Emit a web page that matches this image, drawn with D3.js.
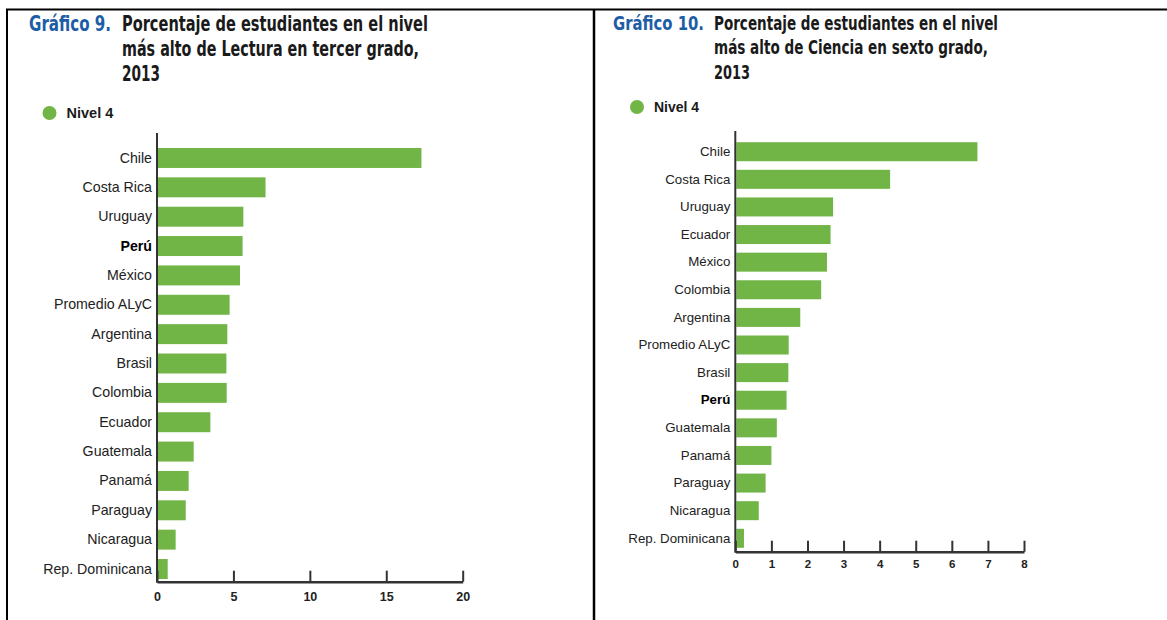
<!DOCTYPE html>
<html>
<head>
<meta charset="utf-8">
<script src="https://cdn.jsdelivr.net/npm/d3@7"></script>
<style>
  body { margin: 0; background: #fff; }
  svg { display: block; }
  .cat text { font-family: "Liberation Sans", Arial, sans-serif; fill: #222; }
  .xax text { font-family: "Liberation Sans", Arial, sans-serif; font-weight: bold; fill: #222; }
  .ttl { font-family: "Liberation Sans Narrow", "DejaVu Sans Condensed", "Liberation Sans", sans-serif; font-weight: bold; font-stretch: condensed; }
</style>
</head>
<body>
<svg width="1167" height="620"></svg>
<script>
// data
var lecturaPaises = ["Chile", "Costa Rica", "Uruguay", "Perú", "México", "Promedio ALyC", "Argentina", "Brasil",
	"Colombia", "Ecuador", "Guatemala", "Panamá", "Paraguay", "Nicaragua", "Rep. Dominicana"];
var lecturaNivel4 = [17.3, 7.1, 5.65, 5.6, 5.43, 4.75, 4.6, 4.54, 4.56, 3.49, 2.4, 2.07, 1.88, 1.22, 0.7];
var lecturaTicks = [0, 5, 10, 15, 20];

var cienciaPaises = ["Chile", "Costa Rica", "Uruguay", "Ecuador", "México", "Colombia", "Argentina", "Promedio ALyC",
	"Brasil", "Perú", "Guatemala", "Panamá", "Paraguay", "Nicaragua", "Rep. Dominicana"];
var cienciaNivel4 = [6.71, 4.29, 2.71, 2.64, 2.54, 2.38, 1.8, 1.48, 1.47, 1.42, 1.15, 1.0, 0.84, 0.65, 0.24];
var cienciaTicks = [0, 1, 2, 3, 4, 5, 6, 7, 8];

var green = "#70b545",
	blue = "#1d5ca6",
	dark = "#1a1a1a",
	axisCol = "#333";

var svg = d3.select("svg");

// frame lines
svg.append("line").attr("x1", 6).attr("x2", 1167).attr("y1", 9.5).attr("y2", 9.5)
	.attr("stroke", "#000").attr("stroke-width", 2);
svg.append("line").attr("x1", 7).attr("x2", 7).attr("y1", 9).attr("y2", 620)
	.attr("stroke", "#000").attr("stroke-width", 2);
svg.append("line").attr("x1", 594).attr("x2", 594).attr("y1", 9).attr("y2", 620)
	.attr("stroke", "#000").attr("stroke-width", 2.5);

function drawPanel(o) {
	var g = svg.append("g");

	// title
	g.append("text").attr("class", "ttl")
		.attr("x", o.gx).attr("y", o.ty[0])
		.attr("font-size", o.tsize)
		.attr("fill", blue)
		.attr("textLength", o.gw).attr("lengthAdjust", "spacingAndGlyphs")
		.text(o.grafico);
	o.lines.forEach(function (l, i) {
		g.append("text").attr("class", "ttl")
			.attr("x", o.tx).attr("y", o.ty[i])
			.attr("font-size", o.tsize)
			.attr("fill", dark)
			.attr("textLength", o.lw[i]).attr("lengthAdjust", "spacingAndGlyphs")
			.text(l);
	});

	// legend
	g.append("circle").attr("cx", o.lx).attr("cy", o.ly).attr("r", 7).attr("fill", green);
	g.append("text")
		.attr("x", o.lx + 17).attr("y", o.ly + 5)
		.attr("font-family", "Liberation Sans, Arial, sans-serif")
		.attr("font-weight", "bold")
		.attr("font-size", o.legSize)
		.attr("fill", dark)
		.text("Nivel 4");

	var x = d3.scaleLinear().domain(o.domain).range([o.x0, o.x1]);
	var y = d3.scaleBand().domain(o.cats).range(o.yr).paddingInner(o.pad).paddingOuter(o.pad / 2);

	// bars
	g.selectAll(".bar")
		.data(o.vals)
		.enter()
		.append("rect")
		.attr("class", "bar")
		.attr("x", x(0) + 1)
		.attr("y", function (d, i) { return y(o.cats[i]); })
		.attr("width", function (d) { return x(d) - x(0) - 1; })
		.attr("height", y.bandwidth())
		.attr("fill", green);

	// category labels
	var ya = g.append("g").attr("class", "cat")
		.attr("transform", "translate(" + x(0) + ",0)")
		.call(d3.axisLeft(y).tickSize(0).tickPadding(5));
	ya.select(".domain").remove();
	ya.selectAll("text")
		.attr("font-size", o.catSize)
		.attr("font-family", null)
		.style("font-weight", function (d) { return d == "Perú" ? "bold" : "normal"; })
		.style("fill", function (d) { return d == "Perú" ? "#000" : "#222"; });

	// x axis with upward ticks
	var xa = g.append("g").attr("class", "xax")
		.attr("transform", "translate(0," + o.base + ")")
		.call(d3.axisBottom(x).tickValues(o.ticks).tickSizeInner(-11).tickSizeOuter(0).tickPadding(o.tickPad));
	xa.select(".domain").attr("stroke", axisCol).attr("stroke-width", 2.5);
	xa.selectAll(".tick line").attr("stroke", axisCol).attr("stroke-width", 2);
	xa.selectAll("text").attr("font-size", o.tickSize).attr("font-family", null);

	// vertical axis line
	g.append("line")
		.attr("x1", x(0)).attr("x2", x(0))
		.attr("y1", o.axTop).attr("y2", o.base + 1)
		.attr("stroke", axisCol).attr("stroke-width", 2);
}

drawPanel({
	grafico: "Gráfico 9.", gx: 29, gw: 82,
	lines: ["Porcentaje de estudiantes en el nivel", "más alto de Lectura en tercer grado,", "2013"],
	tx: 122, ty: [31, 56, 81], lw: [306, 297, 38], tsize: 21,
	lx: 49.5, ly: 113, legSize: 14.5,
	cats: lecturaPaises, vals: lecturaNivel4, ticks: lecturaTicks,
	domain: [0, 20], x0: 157, x1: 462.7,
	yr: [143.3, 583.7], pad: 0.32, base: 581.7, axTop: 133,
	catSize: 14.2, tickSize: 12.5, tickPad: 10
});

drawPanel({
	grafico: "Gráfico 10.", gx: 613, gw: 91,
	lines: ["Porcentaje de estudiantes en el nivel", "más alto de Ciencia en sexto grado,", "2013"],
	tx: 714, ty: [29.5, 54, 79], lw: [284, 274, 36], tsize: 20,
	lx: 637, ly: 107, legSize: 14,
	cats: cienciaPaises, vals: cienciaNivel4, ticks: cienciaTicks,
	domain: [0, 8], x0: 735.3, x1: 1024,
	yr: [137.9, 552.1], pad: 0.312, base: 551.7, axTop: 131,
	catSize: 13.3, tickSize: 11.5, tickPad: 8
});
</script>
</body>
</html>
